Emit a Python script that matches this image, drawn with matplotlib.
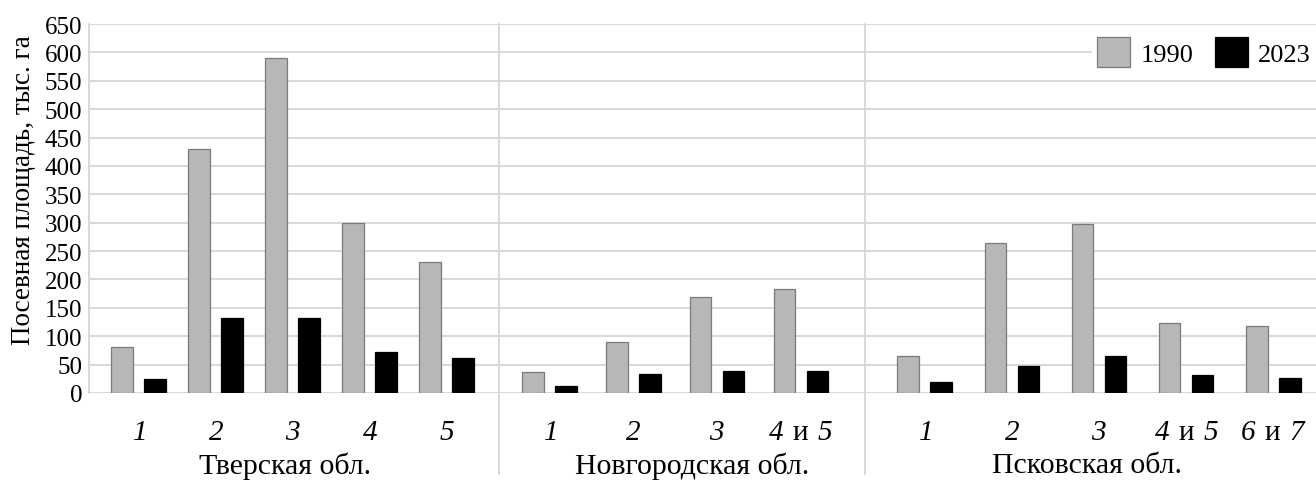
import numpy as np
import matplotlib.pyplot as plt

plt.rcParams['font.family'] = ['Liberation Serif', 'DejaVu Serif']
plt.rcParams['mathtext.fontset'] = 'custom'
plt.rcParams['mathtext.sf'] = 'Liberation Serif:italic'  # used for italic digits
plt.rcParams['mathtext.rm'] = 'Liberation Serif'

# --- data (тыс. га) ---
regions = ["Тверская обл.", "Новгородская обл.", "Псковская обл."]
cats_tver = ["1", "2", "3", "4", "5"]
cats_novg = ["1", "2", "3", "4 и 5"]
cats_pskov = ["1", "2", "3", "4 и 5", "6 и 7"]
tver_1990 = [81, 429, 590, 300, 231]
tver_2023 = [25, 132, 132, 73, 61]
novg_1990 = [37, 90, 169, 183]
novg_2023 = [12, 33, 38, 38]
pskov_1990 = [66, 265, 298, 124, 118]
pskov_2023 = [20, 48, 65, 31, 26]
yticks = np.arange(0, 651, 50)

cats = [cats_tver, cats_novg, cats_pskov]
v1990 = [tver_1990, novg_1990, pskov_1990]
v2023 = [tver_2023, novg_2023, pskov_2023]

# --- layout (pixels of a 1316x489 canvas) ---
W, H = 1316, 489
top, bottom = 25, 394
panel_px = [(89, 499), (499, 865), (865, 1316)]
xlims = [(-0.645, 4.68), (-0.606, 3.767), (-0.685, 4.49)]
label_x = [0.478, 0.527, 0.492]
bar_px, off_px = 21.5, 16.5
grid_c = "#d6d6d6"

fig = plt.figure(figsize=(W / 100, H / 100), dpi=100)


def fmt(lab):
    # numbers in italic, "и" upright
    parts = lab.split(" и ")
    return "$\\ $и$\\ $".join("$\\mathsf{%s}$" % p for p in parts)


axes = []
for i in range(3):
    x0, x1 = panel_px[i]
    ax = fig.add_axes([x0 / W, 1 - bottom / H, (x1 - x0) / W, (bottom - top) / H])
    axes.append(ax)
    lo, hi = xlims[i]
    ppu = (x1 - x0) / (hi - lo)
    bw = bar_px / ppu
    off = off_px / ppu
    x = np.arange(len(cats[i]))
    ax.bar(x - off, v1990[i], bw, color="#b7b7b7", edgecolor="#7a7a7a", lw=0.9, label="1990", zorder=3)
    ax.bar(x + off, v2023[i], bw, color="black", edgecolor="black", lw=0.9, label="2023", zorder=3)
    ax.set_xlim(lo, hi)
    ax.set_ylim(0, 650)
    ax.set_yticks(yticks)
    ax.yaxis.grid(True, color=grid_c, lw=1.3, zorder=0)
    ax.set_axisbelow(True)
    ax.set_xticks(x)
    ax.set_xticklabels([fmt(c) for c in cats[i]], fontsize=21)
    ax.tick_params(axis='x', length=0, pad=19)
    for s in ax.spines.values():
        s.set_visible(False)
    if i == 0:
        ax.tick_params(axis='y', length=0, pad=5, labelsize=18)
        ax.spines['left'].set_visible(True)
        ax.spines['left'].set_color(grid_c)
        ax.spines['left'].set_linewidth(1.3)
    else:
        ax.tick_params(axis='y', left=False, labelleft=False)
        # separator between regions
        ax.plot([0, 0], [-0.22, 1.0], transform=ax.transAxes, color=grid_c,
                lw=1.3, clip_on=False, zorder=1)
    ax.text(label_x[i], -0.195, regions[i], transform=ax.transAxes,
            ha='center', va='center', fontsize=21.5)

fig.text(24 / W, 1 - 190 / H, "Посевная площадь, тыс. га", rotation=90,
         ha='center', va='center', fontsize=19.5)

h, l = axes[2].get_legend_handles_labels()
leg = axes[2].legend(h, l, loc='center right', bbox_to_anchor=(1.0, 1 - 53 / H),
                     bbox_transform=fig.transFigure, ncol=2, fontsize=19,
                     frameon=True, fancybox=False, borderpad=0.2, borderaxespad=0,
                     handlelength=1.25, handleheight=1.35, handletextpad=0.38,
                     columnspacing=0.83)
leg.get_frame().set_facecolor("white")
leg.get_frame().set_edgecolor("white")
leg.get_frame().set_alpha(1)

fig.savefig("out.png", dpi=100)
